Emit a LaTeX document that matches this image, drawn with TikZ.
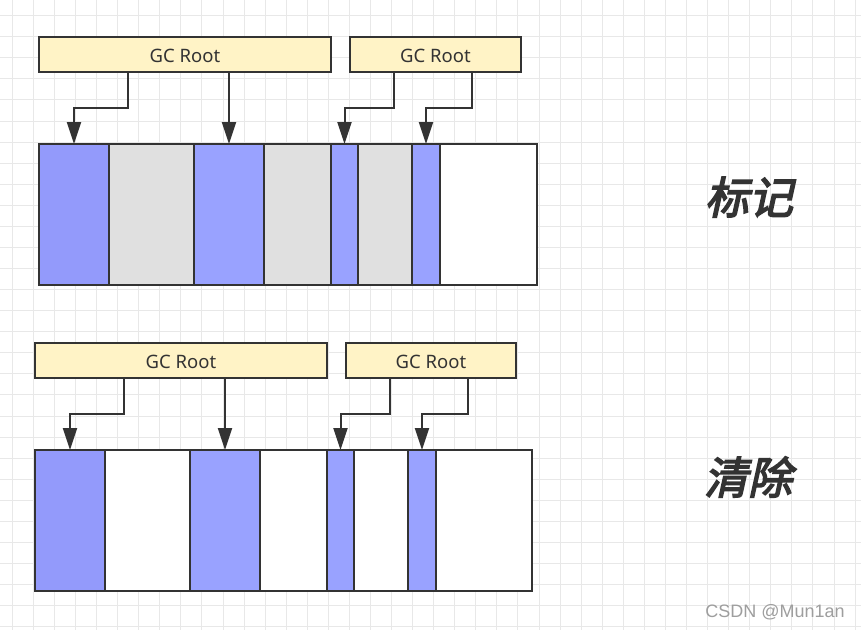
\documentclass[tikz,border=0pt]{standalone}
\usepackage{fontspec}
\setmainfont{Noto Sans}
\newfontfamily\cjkbold[FakeBold=3.5,FakeSlant=0.22]{Noto Sans CJK SC}
\newfontfamily\markfont{Liberation Sans}
\usetikzlibrary{arrows.meta}
\definecolor{ink}{HTML}{333333}
\definecolor{rootfill}{HTML}{FFF3C6}
\definecolor{liveA}{HTML}{939AFB}
\definecolor{liveB}{HTML}{99A2FF}
\definecolor{deadfill}{HTML}{E0E0E0}
\definecolor{gridline}{HTML}{E8E8E8}
\tikzset{
  rootbox/.style={draw=ink, line width=2pt, fill=rootfill, inner sep=0pt, outer sep=0pt,
    anchor=north west, minimum height=35pt, text depth=0pt, text height=16pt,
    font=\fontsize{18.5}{18.5}\selectfont, text=ink},
  seg/.style={draw=ink, line width=2pt, inner sep=0pt, outer sep=0pt,
    anchor=north west, minimum height=141pt},
  arr/.style={draw=ink, line width=2pt, -{Triangle[length=22pt,width=14pt]}},
  title/.style={font=\cjkbold\fontsize{44}{44}\selectfont, text=ink},
}
\begin{document}
\begin{tikzpicture}[x=1pt,y=-1pt]
  \useasboundingbox (0,0) rectangle (861,630);
  \fill[white] (0,0) rectangle (861,630);
  % background grid
  \foreach \i in {0,...,40} {
    \draw[gridline, line width=1pt] ({12.3+21.07*\i},0) -- ({12.3+21.07*\i},630);
  }
  \foreach \j in {0,...,29} {
    \draw[gridline, line width=1pt] (0,{15.7+21.07*\j}) -- (861,{15.7+21.07*\j});
  }

  % ---------- marking phase ----------
  \node[rootbox, minimum width=292pt] (ga) at (39,37) {GC Root};
  \node[rootbox, minimum width=171pt] (gb) at (350,37) {GC Root};

  \node[seg, fill=liveA,    minimum width=70pt] (a1) at (39,144) {};
  \node[seg, fill=deadfill, minimum width=85pt] (a2) at (109,144) {};
  \node[seg, fill=liveB,    minimum width=70pt] (a3) at (194,144) {};
  \node[seg, fill=deadfill, minimum width=67pt] (a4) at (264,144) {};
  \node[seg, fill=liveB,    minimum width=27pt] (a5) at (331,144) {};
  \node[seg, fill=deadfill, minimum width=54pt] (a6) at (358,144) {};
  \node[seg, fill=liveB,    minimum width=28pt] (a7) at (412,144) {};
  \node[seg, fill=white,    minimum width=97pt] (a8) at (440,144) {};

  \coordinate (ka1) at (128,108);
  \coordinate (ka3) at (394,108);
  \coordinate (ka4) at (472,108);
  \draw[arr] (ka1 |- ga.south) -- (ka1) -| (a1.north);
  \draw[arr] (a3.north |- ga.south) -- (a3.north);
  \draw[arr] (ka3 |- gb.south) -- (ka3) -| (a5.north);
  \draw[arr] (ka4 |- gb.south) -- (ka4) -| (a7.north);

  \node[title] (ta) at (749,197) {标记};

  % ---------- sweeping phase ----------
  \node[rootbox, minimum width=292pt] (gc) at (35,343) {GC Root};
  \node[rootbox, minimum width=170pt] (gd) at (346,343) {GC Root};

  \node[seg, fill=liveA, minimum width=70pt] (b1) at (35,450) {};
  \node[seg, fill=white, minimum width=85pt] (b2) at (105,450) {};
  \node[seg, fill=liveB, minimum width=70pt] (b3) at (190,450) {};
  \node[seg, fill=white, minimum width=67pt] (b4) at (260,450) {};
  \node[seg, fill=liveB, minimum width=27pt] (b5) at (327,450) {};
  \node[seg, fill=white, minimum width=54pt] (b6) at (354,450) {};
  \node[seg, fill=liveB, minimum width=28pt] (b7) at (408,450) {};
  \node[seg, fill=white, minimum width=96pt] (b8) at (436,450) {};

  \coordinate (kb1) at (124,414);
  \coordinate (kb3) at (390,414);
  \coordinate (kb4) at (468,414);
  \draw[arr] (kb1 |- gc.south) -- (kb1) -| (b1.north);
  \draw[arr] (b3.north |- gc.south) -- (b3.north);
  \draw[arr] (kb3 |- gd.south) -- (kb3) -| (b5.north);
  \draw[arr] (kb4 |- gd.south) -- (kb4) -| (b7.north);

  \node[title] (tb) at (748,477) {清除};

  % watermark
  \node[font=\markfont\fontsize{18}{18}\selectfont, text=black!38] (wm) at (775,612) {CSDN @Mun1an};
\end{tikzpicture}
\end{document}
